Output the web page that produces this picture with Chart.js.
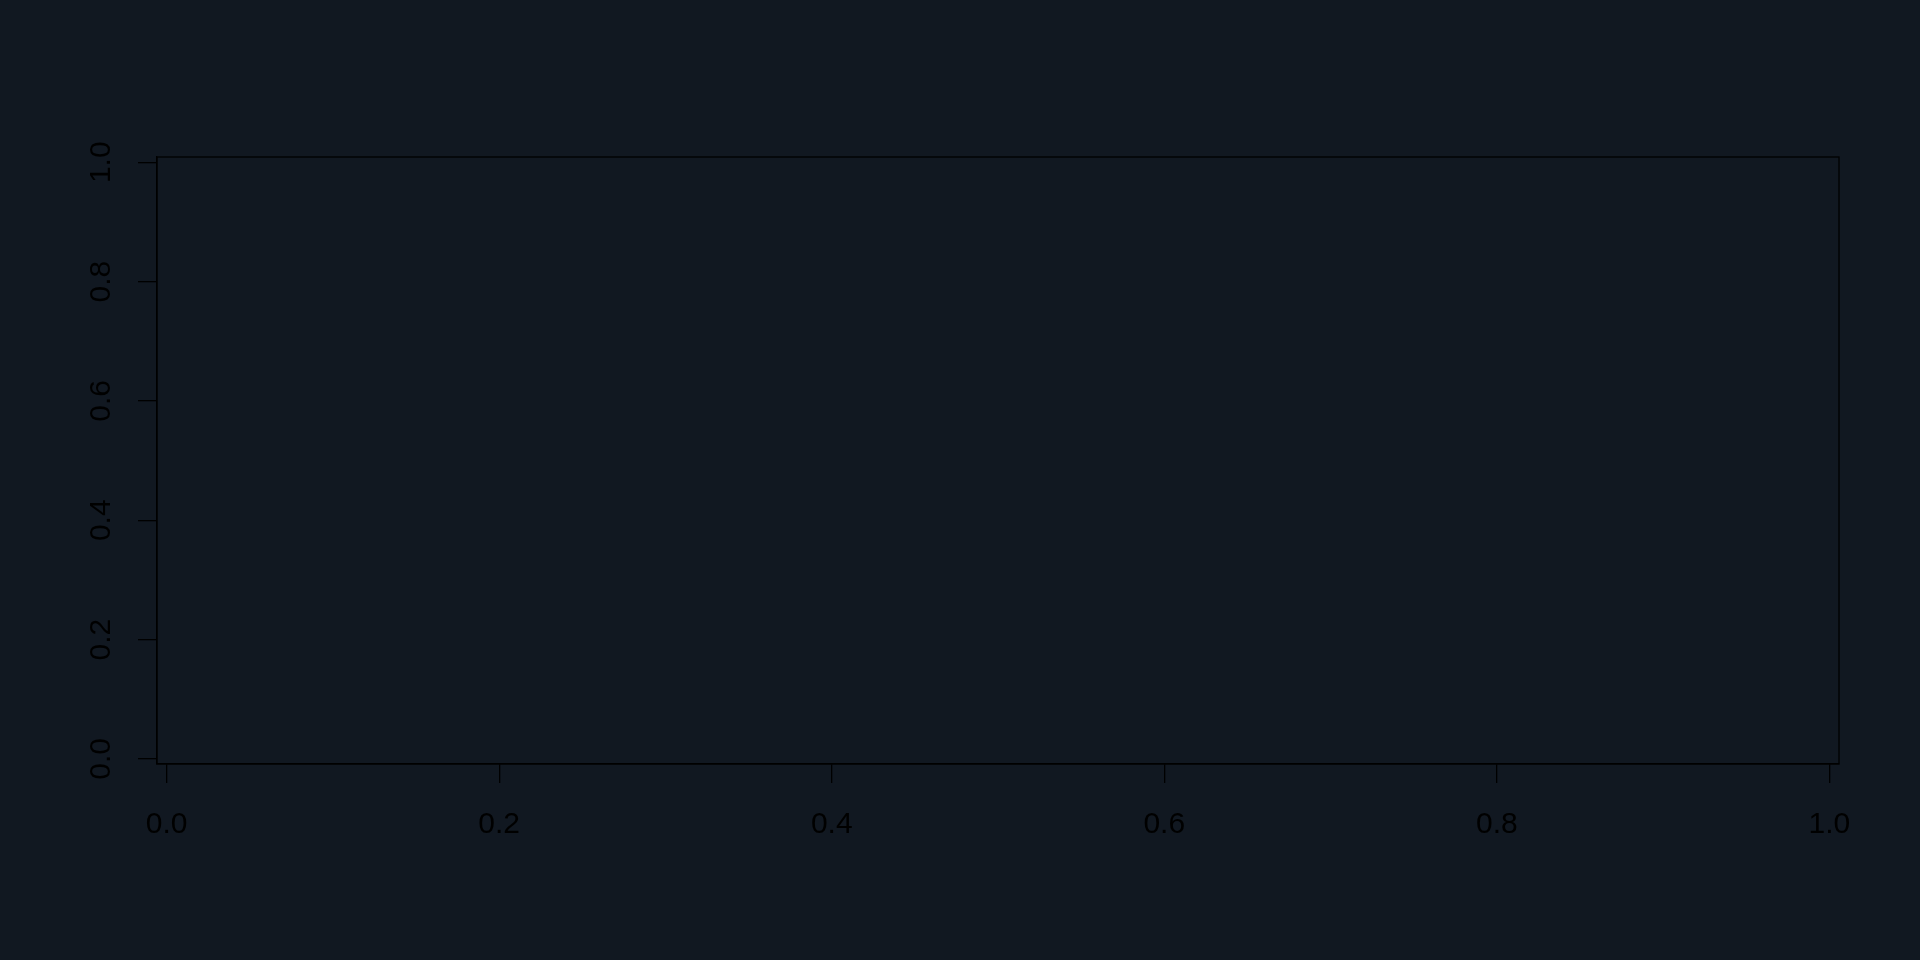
<!DOCTYPE html>
<html>
<head>
<meta charset="utf-8">
<script src="https://cdn.jsdelivr.net/npm/chart.js@4/dist/chart.umd.min.js"></script>
<style>
  html, body { margin: 0; padding: 0; background: #111821; }
  canvas { display: block; }
</style>
</head>
<body>
<canvas id="c" width="1920" height="960"></canvas>
<script>
// Data (the reference is an empty plot: no points)
const xValues = [];
const yValues = [];
const xTicks = [0.0, 0.2, 0.4, 0.6, 0.8, 1.0];
const yTicks = [0.0, 0.2, 0.4, 0.6, 0.8, 1.0];
const xLimits = [-0.0058, 1.0058];
const yLimits = [-0.0085, 1.0088];

const points = xValues.map((x, i) => ({ x: x, y: yValues[i] }));

const framePlugin = {
  id: 'frame',
  afterDraw(chart) {
    const { ctx, chartArea: a } = chart;
    ctx.save();
    ctx.strokeStyle = '#000000';
    ctx.lineWidth = 1.3;
    ctx.strokeRect(a.left, a.top, a.right - a.left, a.bottom - a.top);
    ctx.restore();
  }
};

const fontSpec = { family: '"Liberation Sans", Arial, sans-serif', size: 30 };

new Chart(document.getElementById('c'), {
  type: 'scatter',
  data: { datasets: [{ data: points, pointRadius: 3, borderColor: '#000', backgroundColor: '#000' }] },
  options: {
    responsive: false,
    devicePixelRatio: 1,
    animation: false,
    layout: { padding: { left: 0, top: 157, right: 81, bottom: 0 } },
    plugins: { legend: { display: false }, tooltip: { enabled: false } },
    scales: {
      x: {
        type: 'linear',
        position: 'bottom',
        min: xLimits[0],
        max: xLimits[1],
        afterBuildTicks: (s) => { s.ticks = xTicks.map(v => ({ value: v })); },
        afterFit: (s) => { s.height = 960 - 764; },
        grid: { drawOnChartArea: false, drawTicks: true, tickLength: 19, color: '#000000', lineWidth: 1.3 },
        border: { display: true, color: '#000000', width: 1.3 },
        ticks: {
          color: '#000000',
          font: fontSpec,
          padding: 24,
          maxRotation: 0,
          autoSkip: false,
          callback: (v) => Number(v).toFixed(1)
        }
      },
      y: {
        type: 'linear',
        position: 'left',
        min: yLimits[0],
        max: yLimits[1],
        afterBuildTicks: (s) => { s.ticks = yTicks.map(v => ({ value: v })); },
        afterFit: (s) => { s.width = 157; },
        grid: { drawOnChartArea: false, drawTicks: true, tickLength: 19, color: '#000000', lineWidth: 1.3 },
        border: { display: true, color: '#000000', width: 1.3 },
        ticks: {
          color: '#000000',
          font: fontSpec,
          padding: 15,
          minRotation: 90,
          maxRotation: 90,
          crossAlign: 'center',
          autoSkip: false,
          callback: (v) => Number(v).toFixed(1)
        }
      }
    }
  },
  plugins: [framePlugin]
});
</script>
</body>
</html>
